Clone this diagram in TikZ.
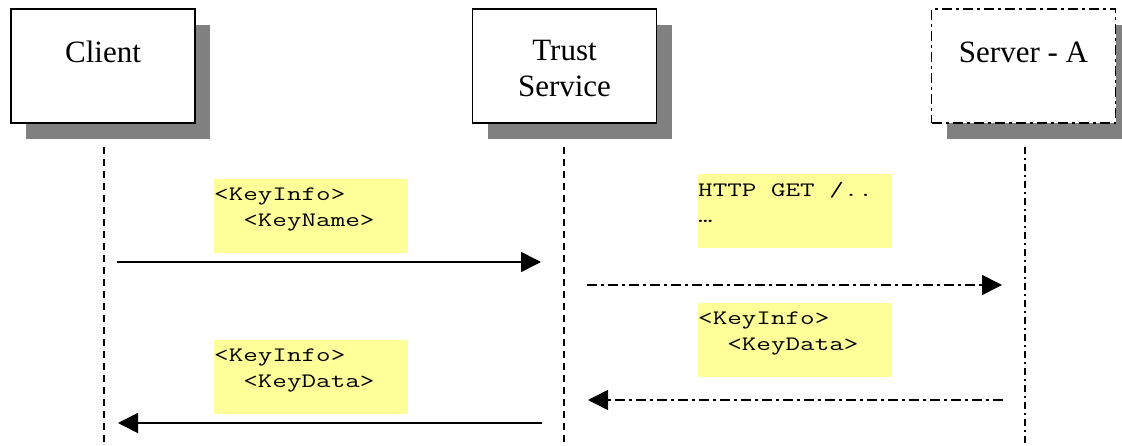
\documentclass[tikz,border=0pt]{standalone}
\usepackage{fontspec}
\usepackage{graphicx}
\setmainfont{Liberation Serif}
\usetikzlibrary{arrows.meta,shadows}
\definecolor{notebg}{HTML}{FFFF99}
\definecolor{shadowgray}{HTML}{808080}
% wide typewriter text used in the message notes
\newcommand\widecode[1]{\scalebox{1.38}[1]{#1}}
\tikzset{
  actor/.style={draw, line width=1.5pt, fill=white, minimum width=184pt,
    minimum height=114pt, inner sep=0pt,
    drop shadow={shadow xshift=15pt, shadow yshift=-16pt, fill=shadowgray, opacity=1}},
  actorname/.style={anchor=base, inner sep=0pt, font=\fontsize{31}{36}\selectfont},
  note/.style={fill=notebg, anchor=north west, minimum width=194pt,
    minimum height=74pt, inner sep=0pt},
  notetext/.style={anchor=base west, inner sep=0pt,
    font=\ttfamily\fontsize{20.5}{26}\selectfont},
  lifeline/.style={line width=1.6pt, dash pattern=on 7pt off 5pt},
  dashdot/.style={dash pattern=on 10pt off 4pt on 3pt off 4pt},
  msg/.style={line width=1.6pt, -{Triangle[length=20pt,width=20pt]}},
}
\begin{document}
\begin{tikzpicture}[x=1pt,y=-1pt]
\useasboundingbox (0,0) rectangle (1122,446);

% participants
\node[actor] (client) at (103,66) {};
\node[actor] (trust) at (564.5,66) {};
\node[actor, dashdot] (server) at (1023.5,66) {};
\node[actorname] (clientname) at (103,63) {Client};
\node[actorname] (trustname1) at (564.5,61) {Trust};
\node[actorname] (trustname2) at (564.5,97) {Service};
\node[actorname] (servername) at (1023.5,63) {Server - A};

% lifelines
\coordinate (clienttop) at (104,147);
\coordinate (clientbot) at (104,446);
\coordinate (trusttop) at (564,147);
\coordinate (trustbot) at (564,446);
\coordinate (servertop) at (1025,147);
\coordinate (serverbot) at (1025,446);
\draw[lifeline] (clienttop) -- (clientbot);
\draw[lifeline] (trusttop) -- (trustbot);
\draw[lifeline, dash pattern=on 7pt off 4pt on 2pt off 4pt] (servertop) -- (serverbot);

% message notes
\node[note] (n1) at (214,179) {};
\node[notetext] (n1a) at (214,201) {\widecode{<KeyInfo>}};
\node[notetext] (n1b) at (214,227) {\widecode{\phantom{xx}<KeyName>}};
\node[note] (n2) at (698,174) {};
\node[notetext] (n2a) at (698,197) {\widecode{HTTP GET /..}};
\node[notetext] (n2b) at (698,223) {\widecode{…}};
\node[note] (n3) at (698,303) {};
\node[notetext] (n3a) at (698,325) {\widecode{<KeyInfo>}};
\node[notetext] (n3b) at (698,351) {\widecode{\phantom{xx}<KeyData>}};
\node[note] (n4) at (214,340) {};
\node[notetext] (n4a) at (214,362) {\widecode{<KeyInfo>}};
\node[notetext] (n4b) at (214,388) {\widecode{\phantom{xx}<KeyData>}};

% messages
\coordinate (m1s) at (117,262);
\coordinate (m1e) at (541,262);
\coordinate (m2s) at (587,285);
\coordinate (m2e) at (1002,285);
\coordinate (m3s) at (1003,400);
\coordinate (m3e) at (588,400);
\coordinate (m4s) at (542,423);
\coordinate (m4e) at (118,423);
\draw[msg] (m1s) -- (m1e);
\draw[msg, dashdot] (m2s) -- (m2e);
\draw[msg, dashdot] (m3s) -- (m3e);
\draw[msg] (m4s) -- (m4e);
\end{tikzpicture}
\end{document}
